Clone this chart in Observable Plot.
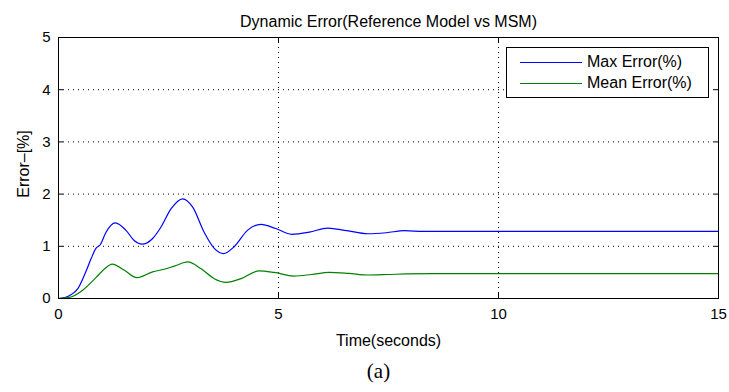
<!DOCTYPE html>
<html>
<head>
<meta charset="utf-8">
<script src="https://cdn.jsdelivr.net/npm/d3@7"></script>
<script src="https://cdn.jsdelivr.net/npm/@observablehq/plot@0.6"></script>
<style>
  body { margin: 0; background: #fff; }
  #wrap { position: relative; width: 729px; height: 392px; font-family: "Liberation Sans", Arial, sans-serif; }
  #legend { position: absolute; left: 506px; top: 47px; width: 203px; height: 51px; border: 1px solid #000; background: #fff; box-sizing: border-box; font-size: 16px; }
  .row { position: absolute; left: 0; height: 20px; width: 100%; }
  .sw { position: absolute; left: 13px; width: 62px; top: 10px; height: 0; border-top: 1px solid; }
  .lb { position: absolute; left: 80px; top: 0; line-height: 20px; white-space: nowrap; }
</style>
</head>
<body>
<div id="wrap"></div>
<script>
// ---- data ----
const titleText = "Dynamic Error(Reference Model vs MSM)";
const xLabel = "Time(seconds)";
const yLabel = "Error–[%]";
const caption = "(a)";
const seriesNames = ["Max Error(%)", "Mean Error(%)"];
const seriesColors = ["#0000ff", "#008000"];
const xTicks = [0, 5, 10, 15];
const yTicks = [0, 1, 2, 3, 4, 5];

const tMax = [0, 0.15, 0.3, 0.44, 0.59, 0.74, 0.85, 0.95, 1.08, 1.29, 1.53, 1.72, 1.90, 2.14, 2.33, 2.56, 2.82, 3.05, 3.31, 3.54, 3.75, 3.99, 4.30, 4.60, 4.94, 5.30, 5.70, 6.12, 6.55, 7.03, 7.45, 7.86, 8.3, 9, 12, 15];
const maxErr = [0, 0.02, 0.08, 0.19, 0.45, 0.76, 0.96, 1.03, 1.27, 1.45, 1.31, 1.11, 1.04, 1.15, 1.37, 1.72, 1.91, 1.75, 1.27, 0.96, 0.86, 0.99, 1.31, 1.42, 1.34, 1.23, 1.27, 1.35, 1.30, 1.24, 1.26, 1.30, 1.285, 1.285, 1.285, 1.285];

const tMean = [0, 0.24, 0.55, 0.85, 1.05, 1.22, 1.50, 1.78, 2.14, 2.40, 2.63, 2.94, 3.24, 3.54, 3.81, 4.15, 4.56, 4.90, 5.35, 5.75, 6.15, 6.6, 7.03, 7.5, 7.9, 8.5, 15];
const meanErr = [0, 0.02, 0.16, 0.40, 0.57, 0.66, 0.54, 0.40, 0.51, 0.56, 0.62, 0.70, 0.57, 0.38, 0.31, 0.38, 0.53, 0.50, 0.43, 0.46, 0.50, 0.48, 0.45, 0.46, 0.47, 0.475, 0.475];

const maxData = tMax.map((t, i) => ({t, v: maxErr[i]}));
const meanData = tMean.map((t, i) => ({t, v: meanErr[i]}));
const fmt = d => String(d);

const chart = Plot.plot({
  width: 729,
  height: 392,
  marginLeft: 58,
  marginRight: 11,
  marginTop: 37,
  marginBottom: 94,
  style: { fontFamily: "'Liberation Sans', Arial, sans-serif", fontSize: "15px", background: "#fff", overflow: "visible" },
  x: { domain: [0, 15] },
  y: { domain: [0, 5] },
  marks: [
    Plot.gridX([5, 10], { stroke: "#000", strokeOpacity: 1, strokeDasharray: "1,4" }),
    Plot.gridY([1, 2, 3, 4], { stroke: "#000", strokeOpacity: 1, strokeDasharray: "1,4" }),
    Plot.line(maxData, { x: "t", y: "v", stroke: seriesColors[0], strokeWidth: 1.2, curve: "monotone-x" }),
    Plot.line(meanData, { x: "t", y: "v", stroke: seriesColors[1], strokeWidth: 1.2, curve: "monotone-x" }),
    Plot.frame({ stroke: "#000", strokeWidth: 1 }),
    Plot.axisX(xTicks, { anchor: "bottom", tickSize: 0, tickPadding: 10, fontSize: 15, label: null, tickFormat: fmt, color: "#000" }),
    Plot.axisX(xTicks, { anchor: "bottom", tickSize: -5, tickFormat: () => "", label: null }),
    Plot.axisX(xTicks, { anchor: "top", tickSize: -5, tickFormat: () => "", label: null }),
    Plot.axisY(yTicks, { anchor: "left", tickSize: 0, tickPadding: 8, fontSize: 15, label: null, tickFormat: fmt, color: "#000" }),
    Plot.axisY(yTicks, { anchor: "left", tickSize: -5, tickFormat: () => "", label: null }),
    Plot.axisY(yTicks, { anchor: "right", tickSize: -5, tickFormat: () => "", label: null }),
    Plot.text([titleText], { frameAnchor: "top", lineAnchor: "middle", textAnchor: "middle", dy: -16, fontSize: 16, fill: "#000" }),
    Plot.text([xLabel], { frameAnchor: "bottom", lineAnchor: "middle", textAnchor: "middle", dy: 42, fontSize: 16, fill: "#000" }),
    Plot.text([yLabel], { frameAnchor: "left", lineAnchor: "middle", textAnchor: "middle", rotate: -90, dx: -35, dy: -4, fontSize: 16, fill: "#000" }),
    Plot.text([caption], { frameAnchor: "bottom", lineAnchor: "middle", textAnchor: "middle", dy: 73, dx: -10, fontSize: 21, fontFamily: "'Liberation Serif', 'DejaVu Serif', serif", fill: "#000" })
  ]
});

const wrap = document.getElementById("wrap");
wrap.appendChild(chart);

const legend = document.createElement("div");
legend.id = "legend";
seriesNames.forEach((name, i) => {
  const row = document.createElement("div");
  row.className = "row";
  row.style.top = (4 + i * 21) + "px";
  const sw = document.createElement("div");
  sw.className = "sw";
  sw.style.borderTopColor = seriesColors[i];
  const lb = document.createElement("div");
  lb.className = "lb";
  lb.textContent = name;
  row.appendChild(sw);
  row.appendChild(lb);
  legend.appendChild(row);
});
wrap.appendChild(legend);
</script>
</body>
</html>
